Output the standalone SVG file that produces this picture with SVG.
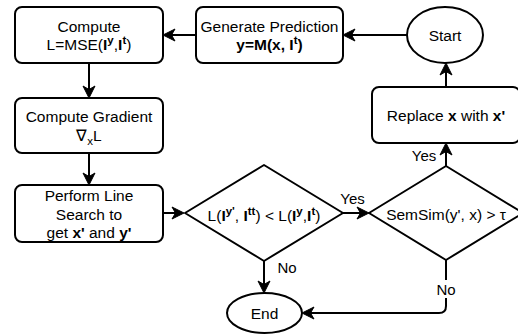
<svg xmlns="http://www.w3.org/2000/svg" width="518" height="336" viewBox="0 0 518 336">
  <style>
    .shape { fill: #ffffff; stroke: #000000; stroke-width: 2; stroke-linejoin: round; }
    .edge { fill: none; stroke: #000000; stroke-width: 2; marker-end: url(#arrow); }
    text { font-family: "Liberation Sans", Arial, Helvetica, sans-serif; font-size: 15.5px; fill: #000000; text-anchor: middle; }
    .lbl { font-size: 15px; }
    .b { font-weight: bold; }
    .sup { font-size: 11.5px; font-weight: bold; }
  </style>
  <defs>
    <marker id="arrow" markerUnits="userSpaceOnUse" viewBox="-12 -8 16 16" markerWidth="16" markerHeight="16" refX="0" refY="0" orient="auto">
      <path d="M3,0 L-9,-6 L-5.5,0 L-9,6 Z" fill="#000000" stroke="#000000" stroke-width="1" stroke-linejoin="miter"/>
    </marker>
  </defs>

  <!-- connectors -->
  <g id="connectors">
    <path class="edge" d="M407,35 H346"/>
    <path class="edge" d="M196,35 H166"/>
    <path class="edge" d="M89,63 V95"/>
    <path class="edge" d="M89,153 V182"/>
    <path class="edge" d="M163,213 H181"/>
    <path class="edge" d="M343,213 H366"/>
    <path class="edge" d="M446,166 V146"/>
    <path class="edge" d="M446,87 V66"/>
    <path class="edge" d="M264,261 V290"/>
    <path class="edge" d="M446,260 V306 Q446,313 439,313 H305"/>
    <text class="lbl" x="352.5" y="203.5">Yes</text>
    <text class="lbl" x="424" y="160.5">Yes</text>
    <text class="lbl" x="287" y="272.5">No</text>
    <rect x="435" y="280" width="22" height="18" fill="#ffffff"/>
    <text class="lbl" x="446" y="294.5">No</text>
  </g>

  <g id="compute-loss">
    <rect class="shape" x="15" y="7" width="148" height="56" rx="7"/>
    <text x="89" y="31.7">Compute</text>
    <text x="89" y="50.4">L=MSE(<tspan class="b">I</tspan><tspan class="sup" dy="-6">y</tspan><tspan dy="6">,</tspan><tspan class="b">I</tspan><tspan class="sup" dy="-6">t</tspan><tspan dy="6">)</tspan></text>
  </g>

  <g id="generate-prediction">
    <rect class="shape" x="196" y="7" width="147" height="56" rx="7"/>
    <text x="269.5" y="31.7">Generate Prediction</text>
    <text x="269.5" y="50.4" class="b">y=M(x, I<tspan class="sup" dy="-6">t</tspan><tspan dy="6">)</tspan></text>
  </g>

  <g id="start">
    <ellipse class="shape" cx="445" cy="35" rx="38" ry="28"/>
    <text x="445" y="41">Start</text>
  </g>

  <g id="replace">
    <rect class="shape" x="372" y="87" width="148" height="56" rx="7"/>
    <text x="446" y="121">Replace <tspan class="b">x</tspan> with <tspan class="b">x'</tspan></text>
  </g>

  <g id="compute-gradient">
    <rect class="shape" x="15" y="98" width="148" height="55" rx="7"/>
    <text x="89" y="122.2">Compute Gradient</text>
    <text x="89" y="140.9">∇<tspan font-size="11.5px" dy="4">x</tspan><tspan dy="-4">L</tspan></text>
  </g>

  <g id="line-search">
    <rect class="shape" x="15" y="185" width="148" height="57" rx="7"/>
    <text x="89" y="201">Perform Line</text>
    <text x="89" y="219.7">Search to</text>
    <text x="89" y="238.4">get <tspan class="b">x'</tspan> and <tspan class="b">y'</tspan></text>
  </g>

  <g id="loss-check">
    <polygon class="shape" points="264,165 343,213 264,261 185,213"/>
    <text x="264" y="221">L(<tspan class="b">I</tspan><tspan class="sup" dy="-6">y'</tspan><tspan dy="6">, </tspan><tspan class="b">I</tspan><tspan class="sup" dy="-6">tt</tspan><tspan dy="6">) &lt; L(</tspan><tspan class="b">I</tspan><tspan class="sup" dy="-6">y</tspan><tspan dy="6">,</tspan><tspan class="b">I</tspan><tspan class="sup" dy="-6">t</tspan><tspan dy="6">)</tspan></text>
  </g>

  <g id="semsim-check">
    <polygon class="shape" points="446,166 523,213 446,260 369,213"/>
    <text x="446" y="220">SemSim(y', x) &gt; τ</text>
  </g>

  <g id="end">
    <ellipse class="shape" cx="264.5" cy="313" rx="37.5" ry="20"/>
    <text x="264.5" y="319">End</text>
  </g>
</svg>
